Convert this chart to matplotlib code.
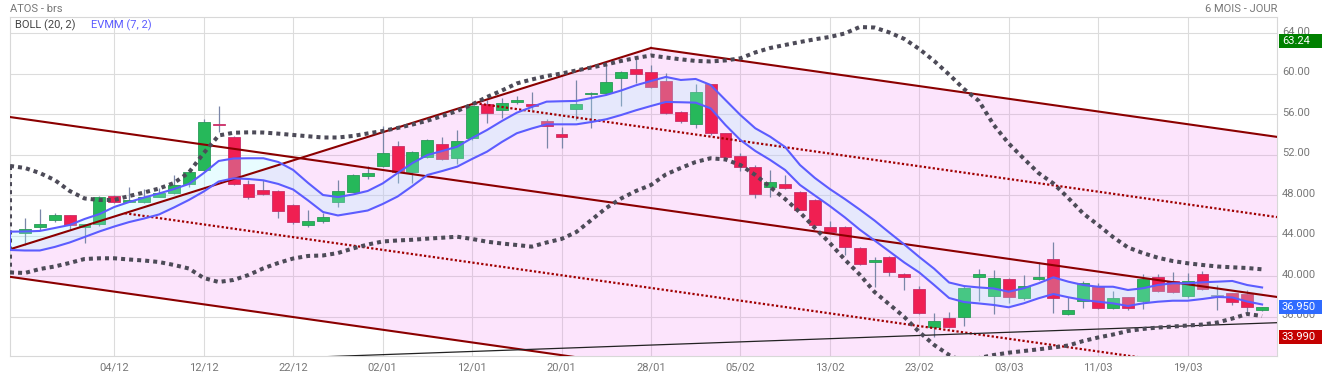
import numpy as np
import matplotlib
matplotlib.use('Agg')
import matplotlib.pyplot as plt
from matplotlib.patches import Rectangle
from matplotlib.transforms import blended_transform_factory, ScaledTranslation

plt.rcParams['font.family'] = ['Roboto', 'DejaVu Sans']

# daily candles (one per session, oldest first)
opens = [44.25, 44.90, 45.59, 46.02, 44.90, 45.14, 47.96, 47.31, 47.31, 47.86,
         48.20, 49.15, 50.47, 55.07, 53.79, 49.09, 48.52, 48.43, 47.01, 45.04,
         45.43, 47.31, 48.36, 49.94, 50.92, 52.90, 50.27, 51.81, 53.04, 51.65,
         53.63, 56.99, 56.40, 57.19, 56.99, 55.34, 54.03, 56.55, 57.98, 58.07,
         59.62, 60.45, 60.15, 59.29, 56.26, 55.01, 58.96, 54.12, 51.91, 50.83,
         48.85, 49.12, 48.36, 47.54, 44.84, 44.90, 42.77, 41.44, 41.88, 40.20,
         38.75, 34.96, 35.85, 35.95, 39.90, 38.05, 39.70, 37.83, 39.70, 41.68,
         36.25, 37.59, 39.04, 36.84, 37.93, 37.56, 39.96, 39.54, 38.05, 40.23,
         38.05, 38.32, 38.25, 36.67]
highs = [45.79, 46.65, 46.30, 46.10, 45.20, 47.90, 48.00, 48.79, 48.65, 48.70,
         50.01, 50.40, 55.51, 56.82, 53.90, 49.51, 49.51, 48.50, 47.10, 46.55,
         46.30, 49.51, 50.10, 50.92, 54.85, 53.36, 52.40, 53.60, 53.73, 54.45,
         56.90, 57.41, 57.60, 57.80, 58.17, 55.50, 54.78, 59.39, 58.20, 61.04,
         60.30, 61.53, 60.87, 60.08, 56.30, 58.96, 59.00, 54.20, 52.15, 51.00,
         50.50, 50.01, 48.40, 47.60, 45.46, 45.00, 42.90, 41.94, 42.00, 40.29,
         39.07, 36.35, 36.44, 39.00, 40.72, 40.62, 39.80, 40.13, 41.44, 43.36,
         37.99, 39.57, 39.31, 38.55, 38.00, 40.23, 40.23, 40.45, 40.33, 40.52,
         39.14, 38.40, 38.65, 37.00]
lows = [43.09, 44.57, 45.40, 44.57, 43.32, 45.00, 47.20, 47.30, 47.20, 47.80,
        48.10, 48.82, 50.30, 54.28, 49.00, 47.61, 48.00, 45.79, 45.20, 44.90,
        45.30, 46.87, 48.30, 49.61, 50.80, 49.19, 49.20, 51.70, 51.50, 51.09,
        53.50, 55.11, 55.60, 57.00, 56.43, 52.64, 52.70, 55.44, 54.62, 58.00,
        56.85, 59.12, 58.60, 56.00, 55.14, 54.62, 54.00, 51.70, 50.40, 47.70,
        47.86, 48.60, 46.50, 45.00, 44.30, 42.10, 41.10, 38.91, 40.06, 38.65,
        36.30, 33.99, 34.90, 35.12, 37.56, 36.25, 37.33, 37.70, 39.60, 36.35,
        36.20, 36.84, 36.80, 36.80, 36.70, 36.74, 38.50, 38.40, 37.90, 38.60,
        36.67, 37.17, 36.18, 36.60]
closes = [44.64, 45.14, 46.02, 45.07, 45.14, 47.80, 47.31, 47.54, 47.86, 48.20,
          48.99, 50.30, 55.24, 54.91, 49.09, 47.80, 48.10, 46.45, 45.33, 45.46,
          45.86, 48.43, 50.01, 50.17, 52.15, 50.27, 52.25, 53.46, 51.59, 53.36,
          56.82, 56.10, 57.09, 57.41, 56.79, 54.84, 53.73, 57.02, 58.13, 59.16,
          60.15, 59.95, 58.73, 56.10, 55.34, 58.17, 54.12, 51.81, 50.83, 48.10,
          49.34, 48.69, 46.55, 45.07, 44.41, 42.92, 41.19, 41.61, 40.40, 39.90,
          36.35, 35.59, 34.96, 38.87, 40.20, 39.80, 37.93, 39.07, 39.90, 37.83,
          36.67, 39.37, 36.84, 37.83, 36.84, 39.70, 38.58, 38.48, 39.54, 38.72,
          38.05, 37.49, 36.94, 36.95]

# indicators start one session before the first candle
boll_up = [50.90, 50.70, 50.20, 49.51, 48.43, 47.69, 47.54, 47.54, 47.93, 48.28,
           48.67, 49.22, 50.25, 52.18, 53.91, 54.18, 54.22, 54.20, 54.09, 53.96,
           53.83, 53.71, 53.71, 53.86, 54.11, 54.35, 54.65, 54.99, 55.37, 55.83,
           56.33, 56.97, 57.71, 58.35, 59.05, 59.44, 59.78, 60.03, 60.33, 60.62,
           60.92, 61.27, 61.56, 61.81, 61.61, 61.43, 61.27, 61.22, 61.32, 61.53,
           62.11, 62.55, 62.85, 63.14, 63.41, 63.64, 63.98, 64.62, 64.57, 64.08,
           63.44, 62.45, 61.27, 59.93, 58.50, 57.32, 54.94, 53.12, 51.64, 50.20,
           49.17, 47.73, 46.20, 45.07, 43.88, 42.85, 42.30, 41.84, 41.51, 41.29,
           41.12, 40.97, 40.89, 40.82, 40.69]
boll_low = [40.38, 40.33, 40.72, 40.97, 41.32, 41.71, 41.78, 41.78, 41.66, 41.56,
            41.41, 41.12, 40.77, 39.83, 39.44, 39.64, 40.13, 40.79, 41.32, 41.76,
            42.01, 42.06, 42.30, 42.75, 43.14, 43.44, 43.54, 43.61, 43.72, 43.81,
            43.91, 43.69, 43.42, 43.24, 43.09, 42.93, 43.34, 43.69, 44.38, 45.56,
            46.75, 47.69, 48.43, 49.02, 50.06, 50.70, 51.29, 51.66, 51.54, 50.99,
            50.01, 48.82, 47.64, 46.30, 44.77, 43.29, 41.66, 40.18, 38.45, 37.22,
            35.98, 34.50, 33.22, 32.23, 31.54, 31.93, 32.23, 32.46, 32.62, 32.79,
            32.97, 33.17, 33.61, 33.96, 34.25, 34.60, 34.80, 34.94, 35.04, 35.14,
            35.24, 35.44, 35.83, 36.28, 36.08]
evmm_up = [44.41, 44.43, 44.48, 44.77, 45.07, 45.66, 46.15, 46.85, 47.34, 47.78,
           48.18, 48.62, 49.12, 50.20, 51.39, 51.64, 51.66, 51.66, 51.29, 50.50,
           49.22, 48.03, 47.83, 48.08, 48.43, 49.17, 50.20, 51.19, 51.98, 52.38,
           52.80, 53.66, 54.45, 55.34, 56.16, 56.72, 57.25, 57.29, 57.32, 57.61,
           57.91, 58.35, 58.87, 59.29, 59.69, 59.39, 59.49, 58.90, 57.41, 55.93,
           54.62, 53.79, 52.77, 50.99, 49.71, 48.62, 47.64, 46.60, 45.51, 44.31,
           43.14, 41.91, 40.75, 39.39, 39.04, 38.90, 38.80, 38.48, 38.82, 39.31,
           39.90, 39.47, 39.14, 38.97, 38.97, 38.65, 38.82, 39.14, 39.31, 39.31,
           39.41, 39.47, 39.54, 39.14, 38.90]
evmm_low = [42.60, 42.55, 42.55, 42.90, 43.34, 43.88, 44.43, 44.92, 45.36, 45.71,
            46.11, 46.80, 47.54, 48.38, 49.36, 49.68, 49.61, 49.48, 49.12, 48.57,
            47.49, 46.35, 46.01, 46.25, 46.50, 47.14, 47.88, 48.92, 50.01, 50.40,
            50.83, 51.59, 52.31, 53.27, 54.13, 54.60, 55.01, 55.01, 55.01, 55.24,
            55.51, 55.93, 56.40, 56.82, 57.22, 57.19, 57.15, 56.59, 54.94, 53.46,
            52.38, 51.49, 50.50, 49.02, 47.98, 46.94, 45.83, 44.62, 43.54, 42.45,
            41.36, 40.38, 39.14, 37.86, 37.46, 37.32, 37.17, 36.94, 37.33, 37.83,
            38.25, 37.93, 37.66, 37.49, 37.33, 37.07, 37.33, 37.49, 37.59, 37.59,
            37.76, 37.96, 37.91, 37.51, 37.22]

# hand drawn trend lines (session index, price)
rise_x, rise_y = [-1, 42], [42.67, 62.55]
fall_x, fall_y = [42, 84], [62.55, 53.77]
chan_x = [-1, 84]
chan_top = [55.73, 37.96]
chan_bot = [39.95, 22.18]
mid1_x, mid1_y = [6.7, 84], [46.23, 30.07]
mid2_x, mid2_y = [30.2, 84], [57.10, 45.85]
support_x, support_y = [0, 84], [31.0, 35.42]

date_labels = ['04/12', '12/12', '22/12', '02/01', '12/01', '20/01', '28/01',
               '05/02', '13/02', '23/02', '03/03', '11/03', '19/03']
price_ticks = [36, 40, 44, 48, 52, 56, 60, 64]
price_labels = ['36.000', '40.000', '44.000', '48.000', '52.00', '56.00', '60.00', '64.00']

tag_values = [63.24, 36.95, 33.99]
tag_texts = ['63.24', '36.950', '33.990']
tag_colors = ['#008000', '#2f6bff', '#c40000']

W, H = 1322, 380
fig = plt.figure(figsize=(W / 100, H / 100), dpi=100)
ax = fig.add_axes([10 / W, 24 / H, 1267 / W, 338.7 / H])
ax.set_xlim(-1, 84)
ax.set_ylim(32.13, 65.58)

# pink zone under the wedge
zone_x = [rise_x[0], rise_x[1], fall_x[1]]
zone_top = [rise_y[0], rise_y[1], fall_y[1]]
zone_bot = np.interp(zone_x, chan_x, chan_bot)
ax.fill_between(zone_x, zone_bot, zone_top, color='#f078f0', alpha=0.2, lw=0, zorder=1)

# candles
wick_col = '#7a86a8'
for i in range(len(opens)):
    o, h, l, c = opens[i], highs[i], lows[i], closes[i]
    if c > o:
        fc, ec = '#26b85a', '#2a9a58'
    elif c < o:
        fc, ec = '#f01f52', '#c8306a'
    else:
        fc, ec = '#8a8aa6', '#8a8aa6'
    ax.vlines(i, l, h, color=wick_col, lw=0.9, zorder=3)
    ax.add_patch(Rectangle((i - 0.4, min(o, c)), 0.8, max(abs(c - o), 0.1),
                           fc=fc, ec=ec, lw=0.6, zorder=3.5))

line_x = np.arange(-1, len(opens))

# EVMM envelope
ax.fill_between(line_x, evmm_low, evmm_up, color=(0.655, 0.957, 1.0), alpha=0.26, lw=0, zorder=4)

# trend lines
red_line = '#8b0000'
ax.plot(rise_x, rise_y, color=red_line, lw=1.5, zorder=5)
ax.plot(fall_x, fall_y, color=red_line, lw=1.5, zorder=5)
ax.plot(chan_x, chan_top, color=red_line, lw=1.5, zorder=5)
ax.plot(chan_x, chan_bot, color=red_line, lw=1.5, zorder=5)
ax.plot(mid1_x, mid1_y, color='#a00000', lw=1.6, ls=(0, (1, 1)), dash_capstyle='butt', zorder=5)
ax.plot(mid2_x, mid2_y, color='#a00000', lw=1.6, ls=(0, (1, 1)), dash_capstyle='butt', zorder=5)
ax.plot(support_x, support_y, color='#222222', lw=0.9, zorder=5)

# bollinger
dot_col = '#4d4b58'
for band in (boll_up, boll_low):
    ax.plot(line_x, band, color=dot_col, lw=2.9, ls=(0, (1, 1)), dash_capstyle='butt', zorder=6)
ax.plot([line_x[0], line_x[0]], [boll_up[0], boll_low[0]], color=dot_col, lw=2.9,
        ls=(0, (1, 1)), dash_capstyle='butt', zorder=6)

# EVMM lines
blue = '#5c5cff'
ax.plot(line_x, evmm_up, color=blue, lw=1.5, zorder=7)
ax.plot(line_x, evmm_low, color=blue, lw=1.5, zorder=7)
ax.plot([line_x[0], line_x[0]], [evmm_up[0], evmm_low[0]], color=blue, lw=1.5, zorder=7)

# axes look
ax.set_axisbelow(True)
ax.grid(True, color='#dcdcdc', lw=0.8, zorder=0)
ax.set_xticks(range(6, 6 * len(date_labels) + 1, 6))
ax.set_xticklabels(date_labels)
ax.set_yticks(price_ticks)
ax.set_yticklabels(price_labels)
ax.yaxis.tick_right()
ax.tick_params(axis='both', length=0, labelsize=8, colors='#777777')
ax.tick_params(axis='x', pad=5)
ax.tick_params(axis='y', pad=3.6)
# price labels sit a little above their grid line
lift = ScaledTranslation(0, 2.5 / 100, fig.dpi_scale_trans)
for lab in ax.get_yticklabels():
    lab.set_transform(lab.get_transform() + lift)
for s in ax.spines.values():
    s.set_color('#d8d8d8')
    s.set_linewidth(0.8)

# price tags on the right
tr = blended_transform_factory(fig.transFigure, ax.transData)
for v, t, col in zip(tag_values, tag_texts, tag_colors):
    ax.add_patch(Rectangle((1279 / W, v - 0.69), 1 - 1279 / W, 1.38, transform=tr,
                           fc=col, ec='none', clip_on=False, zorder=10))
    ax.text(1282 / W, v, t, transform=tr, color='white', fontsize=8, va='center',
            ha='left', zorder=11, clip_on=False)

# headers and legend
fig.text(10 / W, 1 - 8.5 / H, 'ATOS - brs', color='#777777', fontsize=8, va='center')
fig.text(1277 / W, 1 - 8.5 / H, '6 MOIS - JOUR', color='#777777', fontsize=8, va='center', ha='right')
fig.text(15 / W, 1 - 25 / H, 'BOLL (20, 2)', color='#444444', fontsize=8, va='center')
fig.text(91 / W, 1 - 25 / H, 'EVMM (7, 2)', color='#5c5cff', fontsize=8, va='center')

fig.savefig('out.png', dpi=100)
